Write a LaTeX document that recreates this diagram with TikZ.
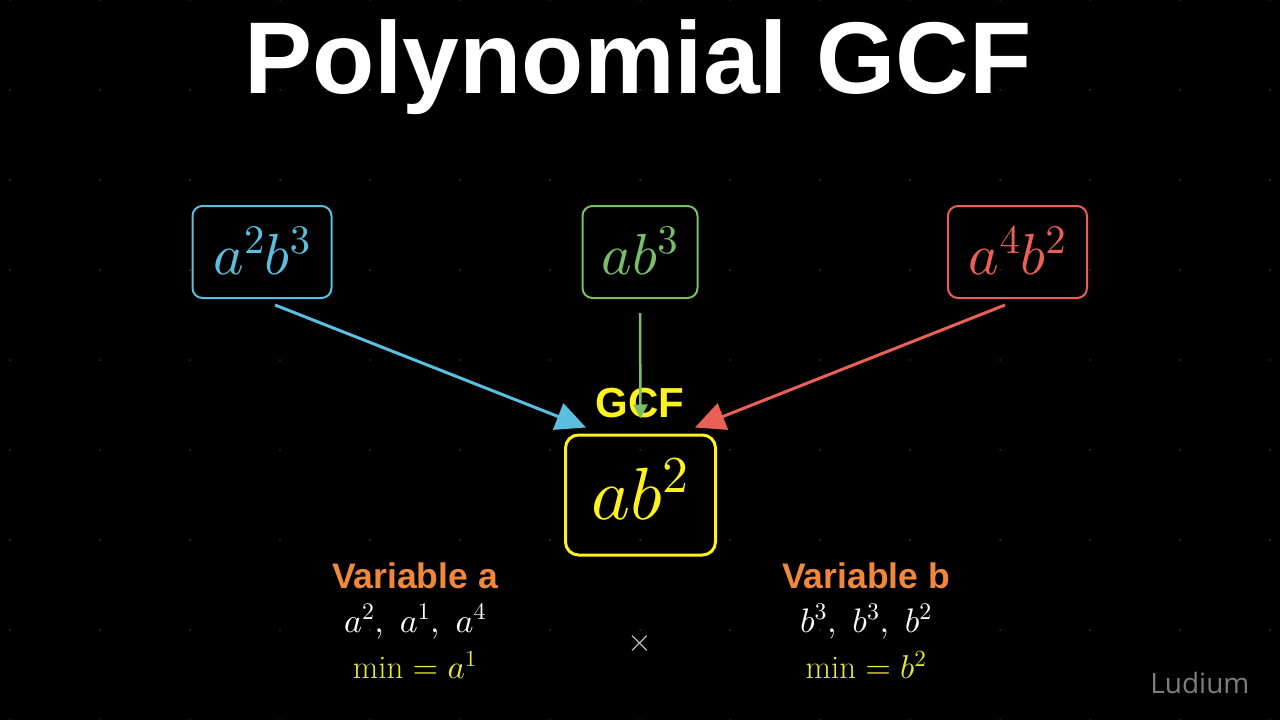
\RequirePackage{fix-cm}
\documentclass[tikz,border=0pt]{standalone}
\usepackage{fontspec}
\DeclareFontShape{OT1}{cmr}{m}{n}{<->cmr10}{}
\DeclareFontShape{OML}{cmm}{m}{it}{<->cmmi10}{}
\DeclareFontShape{OMS}{cmsy}{m}{n}{<->cmsy10}{}
\newfontfamily\hfont{Liberation Sans}
\newfontfamily\ofont{Open Sans}
\usetikzlibrary{arrows.meta,calc}
\definecolor{dotc}{RGB}{48,48,48}
\definecolor{blueA}{RGB}{92,190,222}
\definecolor{greenA}{RGB}{122,190,104}
\definecolor{redA}{RGB}{234,96,86}
\definecolor{yelA}{RGB}{252,242,30}
\definecolor{orangeT}{RGB}{240,136,60}
\definecolor{minY}{RGB}{232,232,60}
\definecolor{ludC}{RGB}{125,125,125}
\definecolor{crossC}{RGB}{205,205,205}
\tikzset{
  termbox/.style={draw, rounded corners=10pt, line width=2pt, minimum width=139pt, minimum height=92pt, inner sep=0pt, font=\fontsize{58}{62}\selectfont, text depth=3pt},
  gcfbox/.style={draw=yelA, text=yelA, rounded corners=13pt, line width=3pt, minimum width=150pt, minimum height=120pt, inner sep=0pt, font=\fontsize{74}{80}\selectfont, text depth=12pt},
  headT/.style={font=\hfont\bfseries\fontsize{35.5}{38}\selectfont, text=orangeT, anchor=base},
  listT/.style={font=\fontsize{34}{38}\selectfont, text=white, anchor=base},
  minT/.style={font=\fontsize{33}{37}\selectfont, text=minY, anchor=base},
}
\begin{document}
\begin{tikzpicture}[x=1pt,y=-1pt]
\fill[black] (0,0) rectangle (1280,720);
\useasboundingbox (0,0) rectangle (1280,720);
\foreach \i in {0,...,14} \foreach \j in {0,...,8} \fill[dotc] (10+90*\i, 90*\j) circle (1pt);
\node[font=\hfont\bfseries\fontsize{102}{110}\selectfont, text=white, anchor=base] (title) at (638,93) {Polynomial GCF};
\node[termbox, draw=blueA, text=blueA] (b1) at (262,252) {$a^2b^3$};
\node[termbox, draw=greenA, text=greenA, minimum width=115pt] (b2) at (640,252) {$ab^3$};
\node[termbox, draw=redA, text=redA] (b3) at (1017.5,252) {$a^4b^2$};
\node[gcfbox] (ctr) at (640.5,495) {$ab^2$};
\node[font=\hfont\bfseries\fontsize{42}{44}\selectfont, text=yelA, anchor=base] (gl) at (640,417) {GCF};
\draw[blueA, line width=3pt, -{Triangle[length=30pt,width=28pt]}] ($(b1.south)+(13,6)$) -- ($(ctr.north west)+(22,-6)$);
\draw[redA, line width=3pt, -{Triangle[length=30pt,width=28pt]}] ($(b3.south)+(-12.5,6)$) -- ($(ctr.north east)+(-22,-6)$);
\draw[greenA, line width=2.5pt, -{Triangle[length=14pt,width=14pt]}] ($(b2.south)+(0,14)$) -- ($(ctr.north)+(0,-15)$);
\node[headT] (va) at (415,588) {Variable a};
\node[listT] (la) at (415,632) {$a^2,\ a^1,\ a^4$};
\node[minT] (ma) at (415,678) {$\min = a^1$};
\node[headT] (vb) at (866,588) {Variable b};
\node[listT] (lb) at (866,632) {$b^3,\ b^3,\ b^2$};
\node[minT] (mb) at (866,678) {$\min = b^2$};
\node[text=crossC, font=\fontsize{32}{34}\selectfont] (x) at (640,643) {$\times$};
\node[font=\ofont\fontsize{28}{30}\selectfont, text=ludC, anchor=base east] (lud) at (1253,693) {Ludium};
\end{tikzpicture}
\end{document}
